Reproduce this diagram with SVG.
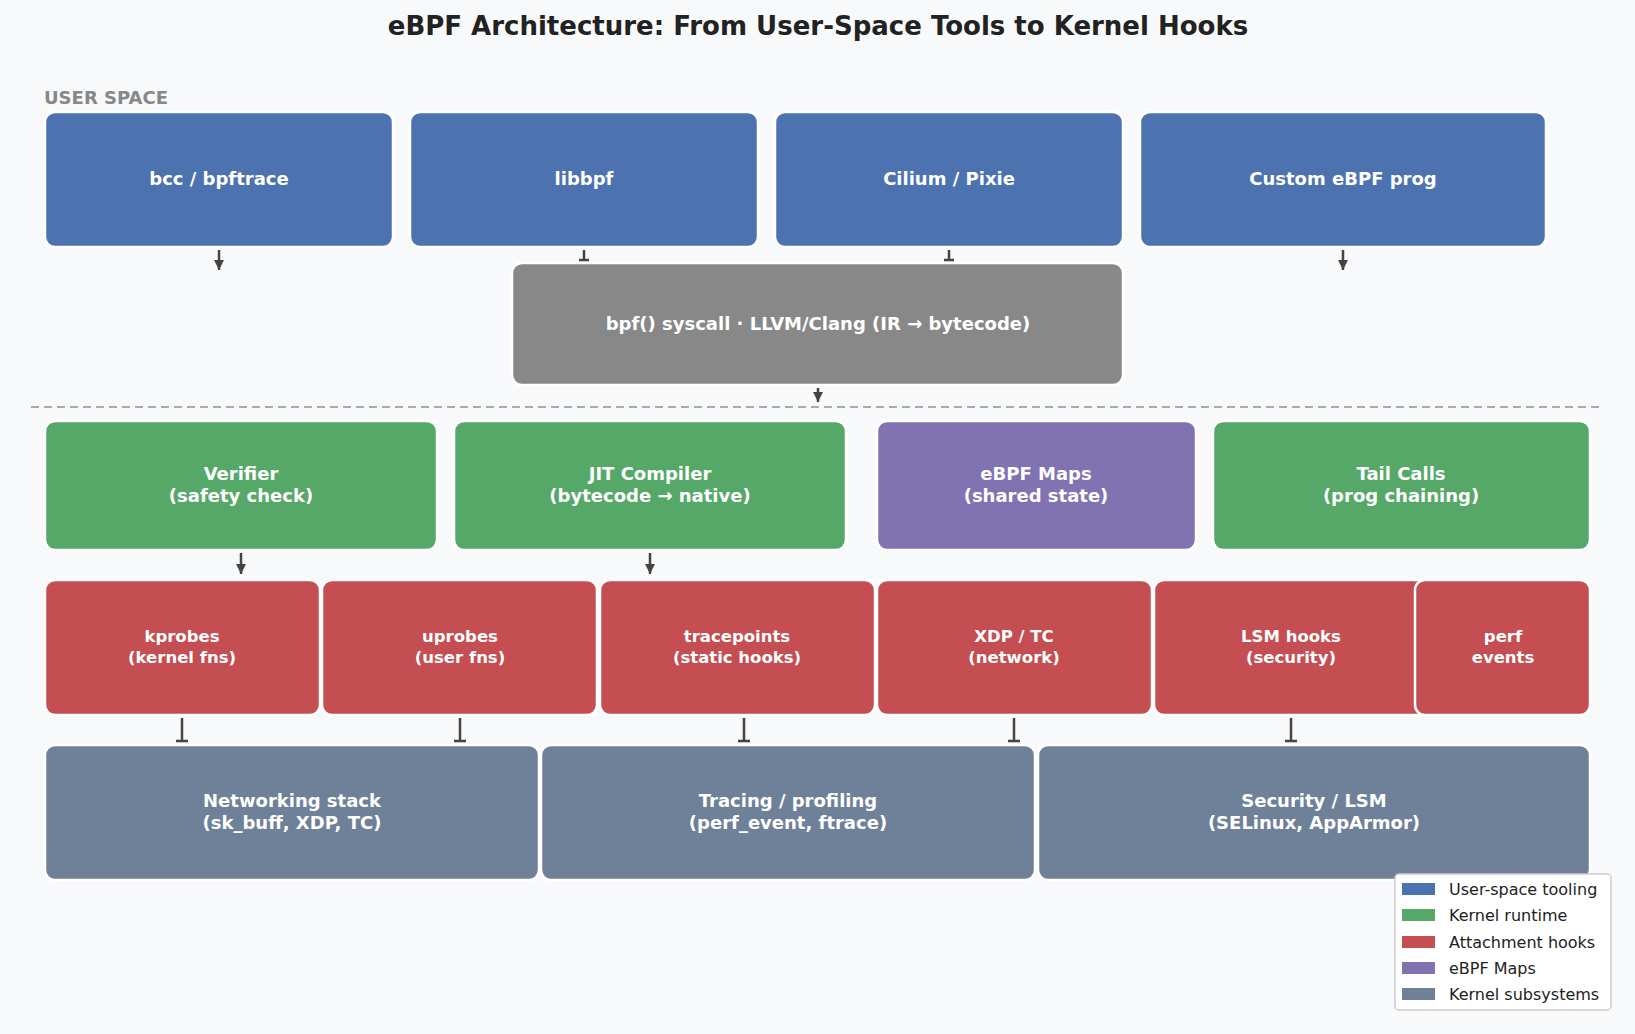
<svg xmlns="http://www.w3.org/2000/svg" width="1635" height="1034" viewBox="0 0 1635 1034">
<defs>
<marker id="ah" viewBox="0 0 10 10" refX="10" refY="5" markerWidth="4" markerHeight="4" orient="auto"><path d="M0,0 L10,5 L0,10 z" fill="#444"/></marker>
<style>
text{font-family:"DejaVu Sans","Liberation Sans",sans-serif;}
.b{stroke:#fff;stroke-width:2.5}
.t{fill:#fff;font-weight:bold;font-size:18px;text-anchor:middle}
.s{fill:#fff;font-weight:bold;font-size:16.5px;text-anchor:middle}
.c{stroke:#444;stroke-width:2.5;fill:none}
.lg{font-size:16px;fill:#222}
</style>
</defs>
<rect width="1635" height="1034" fill="#f8f9fb"/>
<text x="818" y="35" text-anchor="middle" font-size="26" font-weight="bold" fill="#222">eBPF Architecture: From User-Space Tools to Kernel Hooks</text>
<text x="44" y="104" font-size="18" font-weight="bold" fill="#888">USER SPACE</text>
<line x1="31" y1="407" x2="1604" y2="407" stroke="#aaa" stroke-width="2" stroke-dasharray="8,5"/>

<g id="bcc"><rect class="b" x="45" y="112" width="348" height="135" rx="10" fill="#4c72b0"/><text class="t" x="219" y="185">bcc / bpftrace</text></g>
<g id="libbpf"><rect class="b" x="410" y="112" width="348" height="135" rx="10" fill="#4c72b0"/><text class="t" x="584" y="185">libbpf</text></g>
<g id="cilium"><rect class="b" x="775" y="112" width="348" height="135" rx="10" fill="#4c72b0"/><text class="t" x="949" y="185">Cilium / Pixie</text></g>
<g id="custom"><rect class="b" x="1140" y="112" width="406" height="135" rx="10" fill="#4c72b0"/><text class="t" x="1343" y="185">Custom eBPF prog</text></g>
<g id="syscall"><rect class="b" x="512" y="263" width="611" height="122" rx="10" fill="#888888"/><text class="t" x="818" y="330">bpf() syscall  ·  LLVM/Clang (IR → bytecode)</text></g>

<text x="44" y="448" font-size="18" font-weight="bold" fill="#888">KERNEL SPACE</text>
<g id="verifier"><rect class="b" x="45" y="421" width="392" height="129" rx="10" fill="#55a868"/><text class="t" x="241" y="480">Verifier</text><text class="t" x="241" y="502">(safety check)</text></g>
<g id="jit"><rect class="b" x="454" y="421" width="392" height="129" rx="10" fill="#55a868"/><text class="t" x="650" y="480">JIT Compiler</text><text class="t" x="650" y="502">(bytecode → native)</text></g>
<g id="maps"><rect class="b" x="877" y="421" width="319" height="129" rx="10" fill="#8172b2"/><text class="t" x="1036" y="480">eBPF Maps</text><text class="t" x="1036" y="502">(shared state)</text></g>
<g id="tail"><rect class="b" x="1213" y="421" width="377" height="129" rx="10" fill="#55a868"/><text class="t" x="1401" y="480">Tail Calls</text><text class="t" x="1401" y="502">(prog chaining)</text></g>

<g id="kprobes"><rect class="b" x="45" y="580" width="275" height="135" rx="10" fill="#c44e52"/><text class="s" x="182" y="642">kprobes</text><text class="s" x="182" y="663">(kernel fns)</text></g>
<g id="uprobes"><rect class="b" x="322" y="580" width="275" height="135" rx="10" fill="#c44e52"/><text class="s" x="460" y="642">uprobes</text><text class="s" x="460" y="663">(user fns)</text></g>
<g id="tracepoints"><rect class="b" x="600" y="580" width="275" height="135" rx="10" fill="#c44e52"/><text class="s" x="737" y="642">tracepoints</text><text class="s" x="737" y="663">(static hooks)</text></g>
<g id="xdp"><rect class="b" x="877" y="580" width="275" height="135" rx="10" fill="#c44e52"/><text class="s" x="1014" y="642">XDP / TC</text><text class="s" x="1014" y="663">(network)</text></g>
<g id="lsm"><rect class="b" x="1154" y="580" width="275" height="135" rx="10" fill="#c44e52"/><text class="s" x="1291" y="642">LSM hooks</text><text class="s" x="1291" y="663">(security)</text></g>
<g id="perf"><rect class="b" x="1415" y="580" width="175" height="135" rx="10" fill="#c44e52"/><text class="s" x="1503" y="642">perf</text><text class="s" x="1503" y="663">events</text></g>

<g id="net"><rect class="b" x="45" y="745" width="494" height="135" rx="10" fill="#6e8198"/><text class="t" x="292" y="807">Networking stack</text><text class="t" x="292" y="829">(sk_buff, XDP, TC)</text></g>
<g id="tracing"><rect class="b" x="541" y="745" width="494" height="135" rx="10" fill="#6e8198"/><text class="t" x="788" y="807">Tracing / profiling</text><text class="t" x="788" y="829">(perf_event, ftrace)</text></g>
<g id="security"><rect class="b" x="1038" y="745" width="552" height="135" rx="10" fill="#6e8198"/><text class="t" x="1314" y="807">Security / LSM</text><text class="t" x="1314" y="829">(SELinux, AppArmor)</text></g>

<g id="connectors">
<line class="c" x1="219" y1="250" x2="219" y2="270" marker-end="url(#ah)"/>
<line class="c" x1="1343" y1="250" x2="1343" y2="270" marker-end="url(#ah)"/>
<path class="c" d="M584,250 V260 M579,260 H589"/>
<path class="c" d="M949,250 V260 M944,260 H954"/>
<line class="c" x1="818" y1="388" x2="818" y2="402" marker-end="url(#ah)"/>
<line class="c" x1="241" y1="553" x2="241" y2="574" marker-end="url(#ah)"/>
<line class="c" x1="650" y1="553" x2="650" y2="574" marker-end="url(#ah)"/>
<path class="c" d="M182,718 V741 M176,741 H188"/>
<path class="c" d="M460,718 V741 M454,741 H466"/>
<path class="c" d="M744,718 V741 M738,741 H750"/>
<path class="c" d="M1014,718 V741 M1008,741 H1020"/>
<path class="c" d="M1291,718 V741 M1285,741 H1297"/>
</g>

<g id="legend">
<rect x="1395" y="874" width="216" height="136" rx="4" fill="#fff" stroke="#ccc" stroke-width="1.5"/>
<rect x="1402" y="883" width="33" height="12" fill="#4c72b0"/><text class="lg" x="1449" y="895">User-space tooling</text>
<rect x="1402" y="909" width="33" height="12" fill="#55a868"/><text class="lg" x="1449" y="921">Kernel runtime</text>
<rect x="1402" y="936" width="33" height="12" fill="#c44e52"/><text class="lg" x="1449" y="948">Attachment hooks</text>
<rect x="1402" y="962" width="33" height="12" fill="#8172b2"/><text class="lg" x="1449" y="974">eBPF Maps</text>
<rect x="1402" y="988" width="33" height="12" fill="#6e8198"/><text class="lg" x="1449" y="1000">Kernel subsystems</text>
</g>
</svg>
